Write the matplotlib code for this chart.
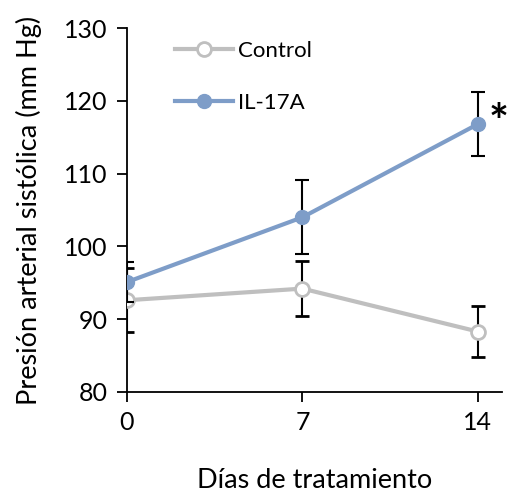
import matplotlib
matplotlib.use("Agg")
import matplotlib.pyplot as plt
from matplotlib.lines import Line2D

plt.rcParams["font.family"] = ["Lato", "DejaVu Sans"]

# data
days = [0, 7, 14]
control = [92.6, 94.2, 88.3]
control_err = [4.4, 3.8, 3.5]
il17a = [95.1, 104.0, 116.8]
il17a_err = [2.8, 5.1, 4.4]

grey = "#BFBFBF"
blue = "#7E9DC8"

fig = plt.figure(figsize=(5.10, 4.93), dpi=100)
ax = fig.add_axes([0.249, 0.205, 0.735, 0.738])

ax.errorbar(days, control, yerr=control_err, color=grey, lw=3,
            marker="o", ms=10, mfc="white", mec=grey, mew=2,
            ecolor="black", elinewidth=1.5, capsize=5, capthick=1.5, zorder=3)
ax.errorbar(days, il17a, yerr=il17a_err, color=blue, lw=3,
            marker="o", ms=10, mfc=blue, mec=blue,
            ecolor="black", elinewidth=1.5, capsize=5, capthick=1.5, zorder=4)

ax.text(14.45, 116.8, "*", fontsize=34, fontweight="bold", ha="left", va="center")

ax.set_xlim(0, 14.96)
ax.set_ylim(80, 130)
ax.set_xticks(days)
ax.set_yticks(range(80, 131, 10))
ax.tick_params(axis="both", labelsize=18, direction="out", length=7, width=1.3, pad=7)
for s in ["top", "right"]:
    ax.spines[s].set_visible(False)
for s in ["left", "bottom"]:
    ax.spines[s].set_linewidth(1.3)

ax.set_xlabel("Días de tratamiento", fontsize=19.5, labelpad=24)
ax.set_ylabel("Presión arterial sistólica (mm Hg)", fontsize=19.5, labelpad=16)

handles = [
    Line2D([], [], color=grey, lw=3, marker="o", ms=10, mfc="white", mec=grey, mew=2),
    Line2D([], [], color=blue, lw=3, marker="o", ms=10, mfc=blue, mec=blue),
]
ax.legend(handles, ["Control", "IL-17A"], loc="upper left", bbox_to_anchor=(0.075, 1.02),
          frameon=False, fontsize=16, handlelength=2.6, labelspacing=1.45, handletextpad=0.25)

fig.savefig("out.png", dpi=100)
